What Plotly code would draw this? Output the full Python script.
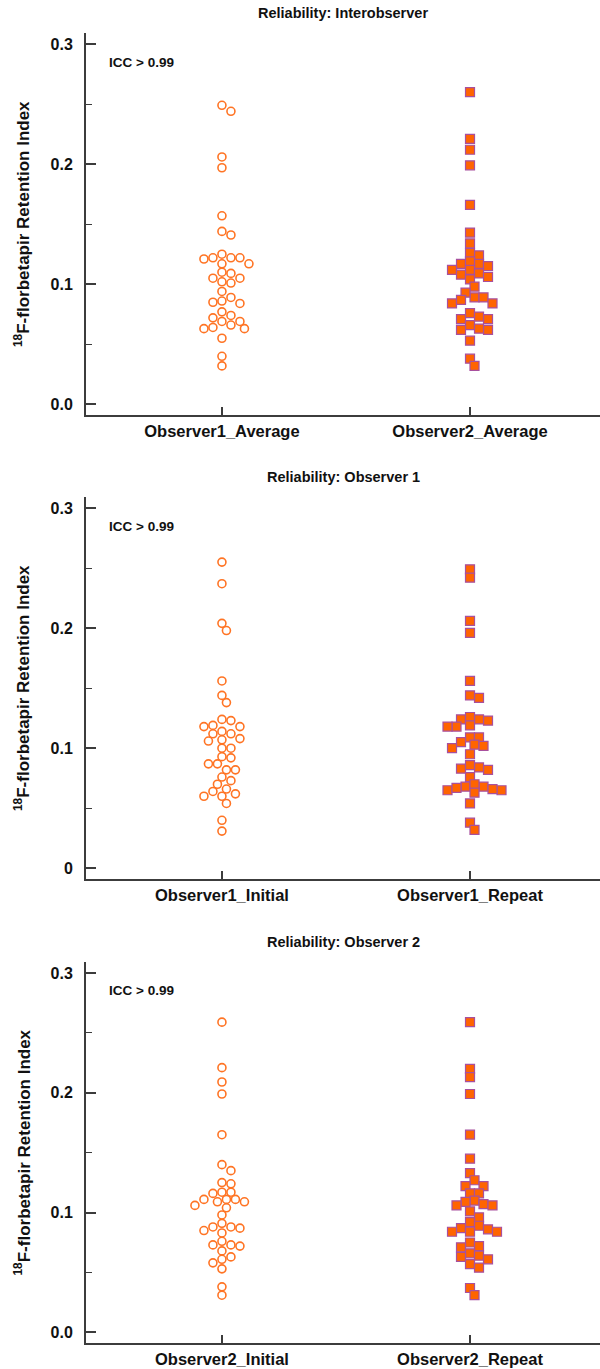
import numpy as np
import plotly.graph_objects as go

# Retention index values per reading
obs1_average = [0.249, 0.244, 0.206, 0.197, 0.157, 0.144, 0.141, 0.125, 0.121, 0.122, 0.122, 0.122,
                0.117, 0.117, 0.110, 0.109, 0.105, 0.105, 0.102, 0.101, 0.094, 0.089, 0.086, 0.085,
                0.084, 0.077, 0.074, 0.072, 0.069, 0.069, 0.066, 0.064, 0.063, 0.063, 0.055, 0.040, 0.032]
obs2_average = [0.260, 0.221, 0.212, 0.199, 0.166, 0.143, 0.134, 0.124, 0.126, 0.117, 0.117, 0.119,
                0.112, 0.112, 0.115, 0.108, 0.109, 0.104, 0.106, 0.098, 0.089, 0.084, 0.089, 0.084,
                0.093, 0.087, 0.076, 0.071, 0.071, 0.073, 0.066, 0.062, 0.062, 0.063, 0.053, 0.038, 0.032]
obs1_initial = [0.255, 0.237, 0.204, 0.198, 0.156, 0.144, 0.138, 0.123, 0.124, 0.118, 0.119, 0.118,
                0.114, 0.112, 0.112, 0.108, 0.107, 0.106, 0.100, 0.100, 0.092, 0.093, 0.087, 0.087,
                0.082, 0.082, 0.076, 0.073, 0.070, 0.066, 0.064, 0.062, 0.060, 0.060, 0.054, 0.040, 0.031]
obs1_repeat = [0.249, 0.242, 0.206, 0.196, 0.156, 0.142, 0.144, 0.123, 0.124, 0.124, 0.126, 0.118,
               0.118, 0.119, 0.109, 0.109, 0.105, 0.103, 0.102, 0.100, 0.095, 0.082, 0.083, 0.084,
               0.086, 0.076, 0.068, 0.068, 0.070, 0.065, 0.065, 0.067, 0.066, 0.063, 0.054, 0.038, 0.032]
obs2_initial = [0.259, 0.221, 0.209, 0.199, 0.165, 0.140, 0.135, 0.124, 0.125, 0.116, 0.117, 0.117,
                0.111, 0.109, 0.109, 0.111, 0.111, 0.106, 0.104, 0.098, 0.091, 0.087, 0.088, 0.088,
                0.085, 0.083, 0.076, 0.073, 0.073, 0.072, 0.068, 0.063, 0.061, 0.058, 0.053, 0.038, 0.031]
obs2_repeat = [0.259, 0.220, 0.213, 0.199, 0.165, 0.145, 0.133, 0.127, 0.122, 0.122, 0.116, 0.116,
               0.110, 0.109, 0.107, 0.106, 0.106, 0.101, 0.096, 0.092, 0.089, 0.087, 0.086, 0.084,
               0.084, 0.084, 0.075, 0.072, 0.071, 0.066, 0.064, 0.063, 0.061, 0.057, 0.054, 0.037, 0.031]

panel_titles = ["Reliability: Interobserver", "Reliability: Observer 1", "Reliability: Observer 2"]
panel_groups = [["Observer1_Average", "Observer2_Average"],
                ["Observer1_Initial", "Observer1_Repeat"],
                ["Observer2_Initial", "Observer2_Repeat"]]
panel_values = [[obs1_average, obs2_average],
                [obs1_initial, obs1_repeat],
                [obs2_initial, obs2_repeat]]
y_tickvals = [0, 0.1, 0.2, 0.3]
y_ticktext = [["0.0", "0.1", "0.2", "0.3"],
              ["0", "0.1", "0.2", "0.3"],
              ["0.0", "0.1", "0.2", "0.3"]]
icc_label = "ICC > 0.99"
y_title = "<sup>18</sup>F-florbetapir Retention Index"

W, H = 600, 1369
LEFT = 86
PLOT_W = W - LEFT
X_RANGE = [-0.548, 1.524]
Y_RANGE = [-0.0089, 0.3092]
PANEL_PX = [(33, 415), (497, 879), (962, 1343)]   # top/bottom of each plot area

PX_PER_X = PLOT_W / (X_RANGE[1] - X_RANGE[0])
PX_PER_Y = (PANEL_PX[0][1] - PANEL_PX[0][0]) / (Y_RANGE[1] - Y_RANGE[0])


def swarm_offsets(vals, diam=9.0, step=4.5, thr=0.9):
    """Greedy beeswarm: each point takes the nearest half-diameter slot that
    doesn't collide with points already placed."""
    vals = np.asarray(vals, dtype=float)
    order = np.argsort(-vals, kind="stable")
    placed = []
    offs = np.zeros(len(vals))
    cands = [0] + [s * j for j in range(1, 30) for s in (1, -1)]
    for i in order:
        yp = vals[i] * PX_PER_Y
        xp = 0.0
        for c in cands:
            xp = c * step
            if all((xp - a) ** 2 + (yp - b) ** 2 >= (thr * diam) ** 2 for a, b in placed):
                break
        placed.append((xp, yp))
        offs[i] = xp / PX_PER_X
    return offs


ORANGE = "#ff7424"
SQ_FILL = "#ff6400"
SQ_EDGE = "#a8509e"
AXIS_COL = "#3c3c3c"
TEXT_COL = "#111111"
FONT = "Liberation Sans, Arial, sans-serif"

fig = go.Figure()
layout = dict(
    width=W, height=H,
    margin=dict(l=LEFT, r=0, t=0, b=0),
    paper_bgcolor="white", plot_bgcolor="white",
    showlegend=False,
    font=dict(family=FONT, color=TEXT_COL),
)
annotations = []

for p in range(3):
    sfx = "" if p == 0 else str(p + 1)
    xa, ya = "x" + sfx, "y" + sfx
    top, bot = PANEL_PX[p]
    dom = [1 - bot / H, 1 - top / H]

    for g in range(2):
        vals = panel_values[p][g]
        xs = g + swarm_offsets(vals)
        if g == 0:
            marker = dict(symbol="circle-open", size=8, color=ORANGE, line=dict(width=1.6, color=ORANGE))
        else:
            marker = dict(symbol="square", size=9, color=SQ_FILL, line=dict(width=1.2, color=SQ_EDGE))
        fig.add_trace(go.Scatter(x=xs, y=vals, mode="markers", marker=marker,
                                 xaxis=xa, yaxis=ya, name=panel_groups[p][g]))

    layout["xaxis" + sfx] = dict(
        domain=[0, 1], anchor=ya, range=X_RANGE, automargin=False,
        tickvals=[0, 1], ticktext=panel_groups[p],
        ticks="inside", ticklen=8, tickwidth=1.5, tickcolor=AXIS_COL,
        showline=True, linewidth=2, linecolor=AXIS_COL,
        showgrid=False, zeroline=False,
        tickfont=dict(family=FONT, size=16.5, weight="bold", color=TEXT_COL),
    )
    layout["yaxis" + sfx] = dict(
        domain=dom, anchor=xa, range=Y_RANGE, automargin=False,
        tickvals=y_tickvals, ticktext=y_ticktext[p],
        ticks="inside", ticklen=10, tickwidth=1.5, tickcolor=AXIS_COL,
        minor=dict(tickvals=[0.05, 0.15, 0.25], ticks="inside", ticklen=6,
                   tickwidth=1, tickcolor=AXIS_COL, showgrid=False),
        ticklabelstandoff=8,
        showline=True, linewidth=2, linecolor=AXIS_COL,
        showgrid=False, zeroline=False,
        tickfont=dict(family=FONT, size=16, weight="bold", color=TEXT_COL),
    )

    # panel title
    annotations.append(dict(
        text=panel_titles[p], xref="x" + sfx + " domain", yref="paper",
        x=0.5, y=1 - (top - 20) / H, xanchor="center", yanchor="middle", showarrow=False,
        font=dict(family=FONT, size=14.5, weight="bold", color=TEXT_COL),
    ))
    # y-axis title, placed in the left margin
    annotations.append(dict(
        text=y_title, xref="paper", yref="paper",
        x=(22 - LEFT) / PLOT_W, y=1 - (top + bot) / 2 / H, xanchor="center", yanchor="middle",
        textangle=-90, showarrow=False,
        font=dict(family=FONT, size=17, weight="bold", color=TEXT_COL),
    ))
    # ICC note
    annotations.append(dict(
        text=icc_label, xref="x" + sfx + " domain", yref=ya,
        x=0.04, y=0.285, xanchor="left", yanchor="middle", showarrow=False,
        font=dict(family=FONT, size=13.5, weight="bold", color=TEXT_COL),
    ))

layout["annotations"] = annotations
fig.update_layout(**layout)
fig.write_html("out.html")
